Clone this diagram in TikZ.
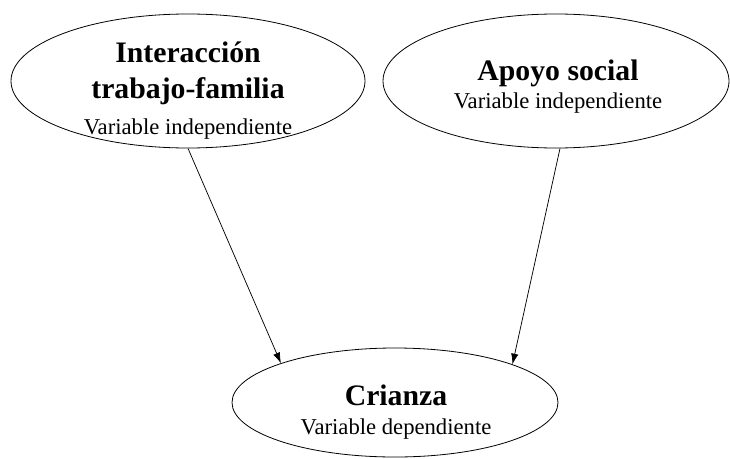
\documentclass[tikz,border=0pt]{standalone}
\usepackage{fontspec}
\setmainfont{Liberation Serif}
\usetikzlibrary{shapes.geometric}
\usetikzlibrary{arrows.meta}
\usetikzlibrary{positioning}

\begin{document}
\begin{tikzpicture}[x=0.75pt, y=0.75pt, line width=0.6pt,
  oval/.style={draw, ellipse, inner sep=0pt},
  vartext/.style={align=center, inner sep=0pt, font=\fontsize{17}{#1}\selectfont},
  flecha/.style={-{Latex[length=8pt, width=5.5pt]}, line width=0.55pt}]
\useasboundingbox (0,0) rectangle (730,458);

% independent variables
\node[oval, minimum width=265.5pt, minimum height=100.5pt] (interaccion) at (188,377) {};
\node[vartext=27pt] (interaccion text) at (188,367) {{\fontsize{22.3}{27}\selectfont\bfseries Interacción}\\{\fontsize{22.3}{27}\selectfont\bfseries trabajo-familia}\\Variable independiente};

\node[oval, minimum width=259.5pt, minimum height=100.5pt] (apoyo) at (556,377) {};
\node[vartext=21pt] (apoyo text) at (558,371) {{\fontsize{22.3}{27}\selectfont\bfseries Apoyo social}\\Variable independiente};

% dependent variable
\node[oval, minimum width=244.5pt, minimum height=81.75pt] (crianza) at (395,55.5) {};
\node[vartext=22pt] (crianza text) at (396,46) {{\fontsize{22.3}{27}\selectfont\bfseries Crianza}\\Variable dependiente};

% arrows
\draw[flecha] (interaccion.south) -- (crianza.161);
\draw[flecha] ([xshift=3pt]apoyo.south) -- (crianza.18.5);
\end{tikzpicture}
\end{document}
